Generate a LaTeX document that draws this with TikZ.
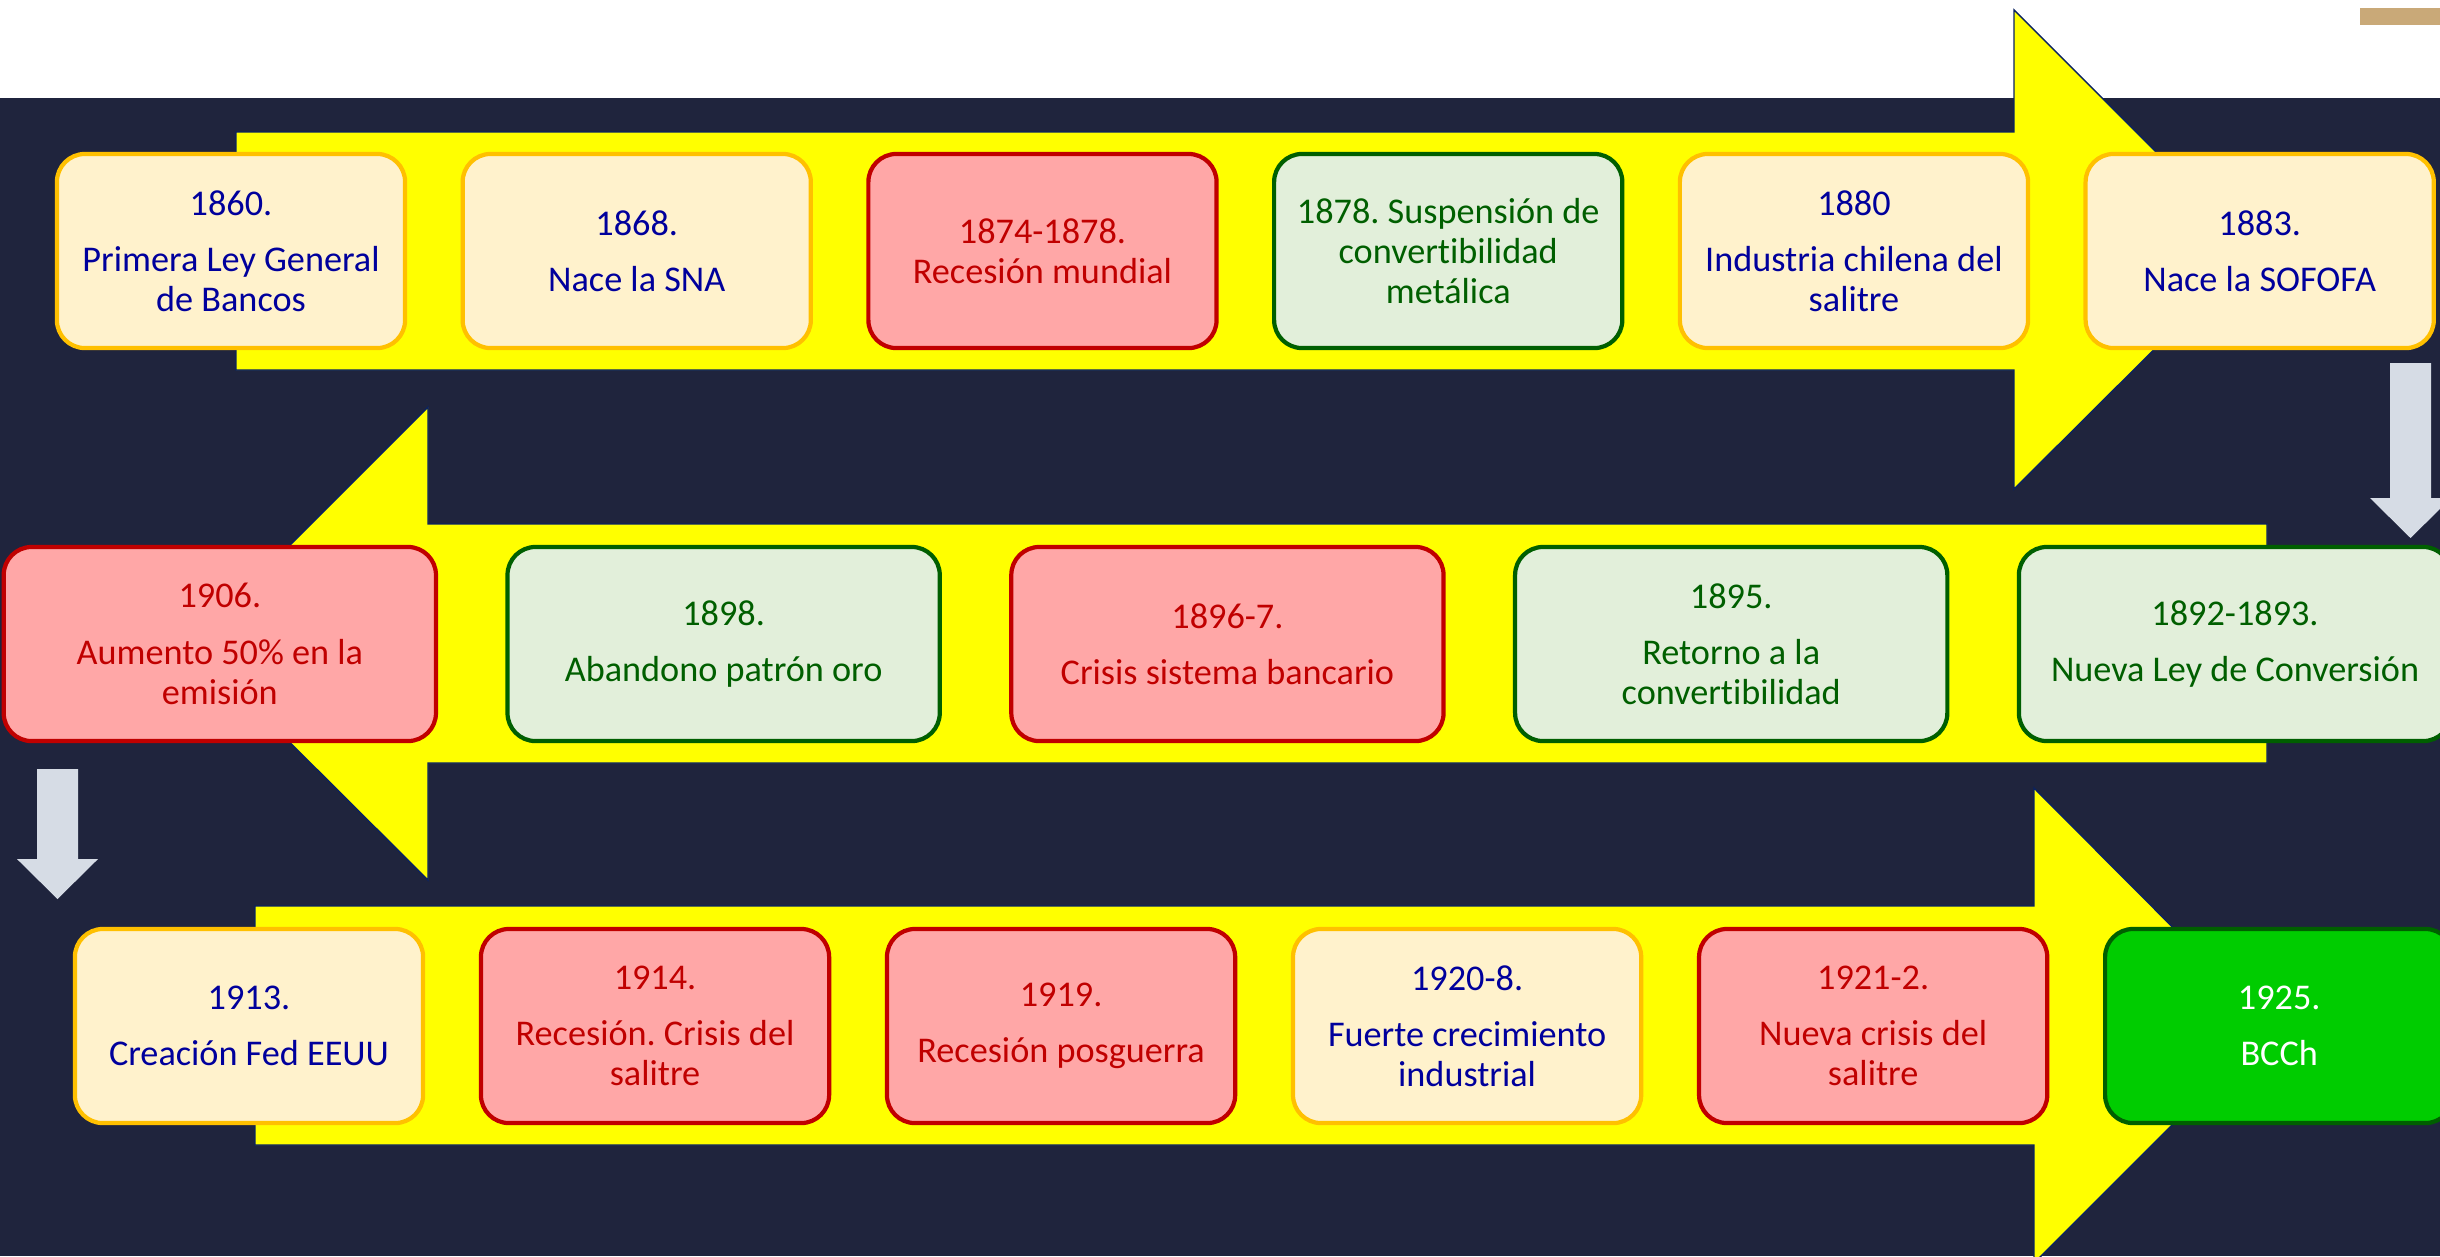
\documentclass[tikz,border=0pt]{standalone}
\usepackage{fontspec}
\setmainfont{Carlito}[Ligatures=NoCommon]
\frenchspacing
\usetikzlibrary{positioning}
\definecolor{myyellow}{HTML}{FFFF00}
\definecolor{mynavy}{HTML}{1F243D}
\definecolor{myline}{HTML}{0A2260}
\definecolor{mycream}{HTML}{FFF2CC}
\definecolor{mygold}{HTML}{FFC000}
\definecolor{myblue}{HTML}{00009C}
\definecolor{mypink}{HTML}{FFA7A7}
\definecolor{myred}{HTML}{C00000}
\definecolor{mymint}{HTML}{E2EFDA}
\definecolor{mygreen}{HTML}{005F00}
\definecolor{mylime}{HTML}{00CC00}
\definecolor{mygrey}{HTML}{D6DCE5}
\definecolor{mytan}{HTML}{C9A978}
\tikzset{
  evento/.style={rounded corners=0.28cm, line width=1.2pt, align=center, inner sep=0pt, outer sep=0pt,
    minimum width=3.48cm, minimum height=1.94cm, font=\fontsize{10.3}{11.4}\selectfont},
  auge/.style={evento, fill=mycream, draw=mygold, text=myblue},
  crisis/.style={evento, fill=mypink, draw=myred, text=myred},
  metal/.style={evento, fill=mymint, draw=mygreen, text=mygreen},
  bcch/.style={evento, fill=mylime, draw=mygreen, text=white},
  ancho/.style={minimum width=4.32cm},
  flecha/.style={fill=myyellow, draw=myline, line width=0.4pt}
}

\begin{document}
\begin{tikzpicture}[x=0.01cm, y=-0.01cm]
		\useasboundingbox (0,0) rectangle (2440,1256);
		\clip (0,0) rectangle (2440,1256);
		%% fondo oscuro y la barrita de arriba
		\fill[mynavy] (0,98) rectangle (2440,1256);
		\fill[mytan] (2360,8) rectangle (2440,25);
		%% las tres flechas amarillas
		\draw[flecha] (236,132) -- (2014,132) -- (2014,10) -- (2254,250) -- (2014,489) -- (2014,370) -- (236,370) -- cycle;
		\draw[flecha] (2267,524) -- (428,524) -- (428,407) -- (191,644) -- (428,880) -- (428,763) -- (2267,763) -- cycle;
		\draw[flecha] (255,906) -- (2034,906) -- (2034,788) -- (2271,1026) -- (2034,1263) -- (2034,1145) -- (255,1145) -- cycle;
		%% flechas grises para bajar de fila
		\fill[mygrey] (2390,363) -- (2431,363) -- (2431,498) -- (2451,498) -- (2410.5,538) -- (2370,498) -- (2390,498) -- cycle;
		\fill[mygrey] (37,769) -- (78,769) -- (78,859) -- (98,859) -- (57.5,899) -- (17,859) -- (37,859) -- cycle;
		%% primera fila
		\node[auge] (n1860) at (231,251) {1860.\\[4.6pt] Primera Ley General\\ de Bancos};
		\node[auge, right=0.575cm of n1860] (n1868) {1868.\\[4.6pt] Nace la SNA};
		\node[crisis, right=0.575cm of n1868] (n1874) {1874-1878.\\ Recesión mundial};
		\node[metal, right=0.575cm of n1874] (n1878) {1878. Suspensión de\\ convertibilidad\\ metálica};
		\node[auge, right=0.575cm of n1878] (n1880) {1880\\[4.6pt] Industria chilena del\\ salitre};
		\node[auge, right=0.575cm of n1880] (n1883) {1883.\\[4.6pt] Nace la SOFOFA};
		%% segunda fila, de derecha a izquierda
		\node[metal, ancho] (n1892) at (2235,644) {1892-1893.\\[4.6pt] Nueva Ley de Conversión};
		\node[metal, ancho, left=0.715cm of n1892] (n1895) {1895.\\[4.6pt] Retorno a la\\ convertibilidad};
		\node[crisis, ancho, left=0.715cm of n1895] (n1896) {1896-7.\\[4.6pt] Crisis sistema bancario};
		\node[metal, ancho, left=0.715cm of n1896] (n1898) {1898.\\[4.6pt] Abandono patrón oro};
		\node[crisis, ancho, left=0.715cm of n1898] (n1906) {1906.\\[4.6pt] Aumento 50\% en la\\ emisión};
		%% tercera fila
		\node[auge] (n1913) at (249,1026) {1913.\\[4.6pt] Creación Fed EEUU};
		\node[crisis, right=0.578cm of n1913] (n1914) {1914.\\[4.6pt] Recesión. Crisis del\\ salitre};
		\node[crisis, right=0.578cm of n1914] (n1919) {1919.\\[4.6pt] Recesión posguerra};
		\node[auge, right=0.578cm of n1919] (n1920) {1920-8.\\[4.6pt] Fuerte crecimiento\\ industrial};
		\node[crisis, right=0.578cm of n1920] (n1921) {1921-2.\\[4.6pt] Nueva crisis del\\ salitre};
		\node[bcch, right=0.578cm of n1921] (n1925) {1925.\\[4.6pt] BCCh};
\end{tikzpicture}
\end{document}
